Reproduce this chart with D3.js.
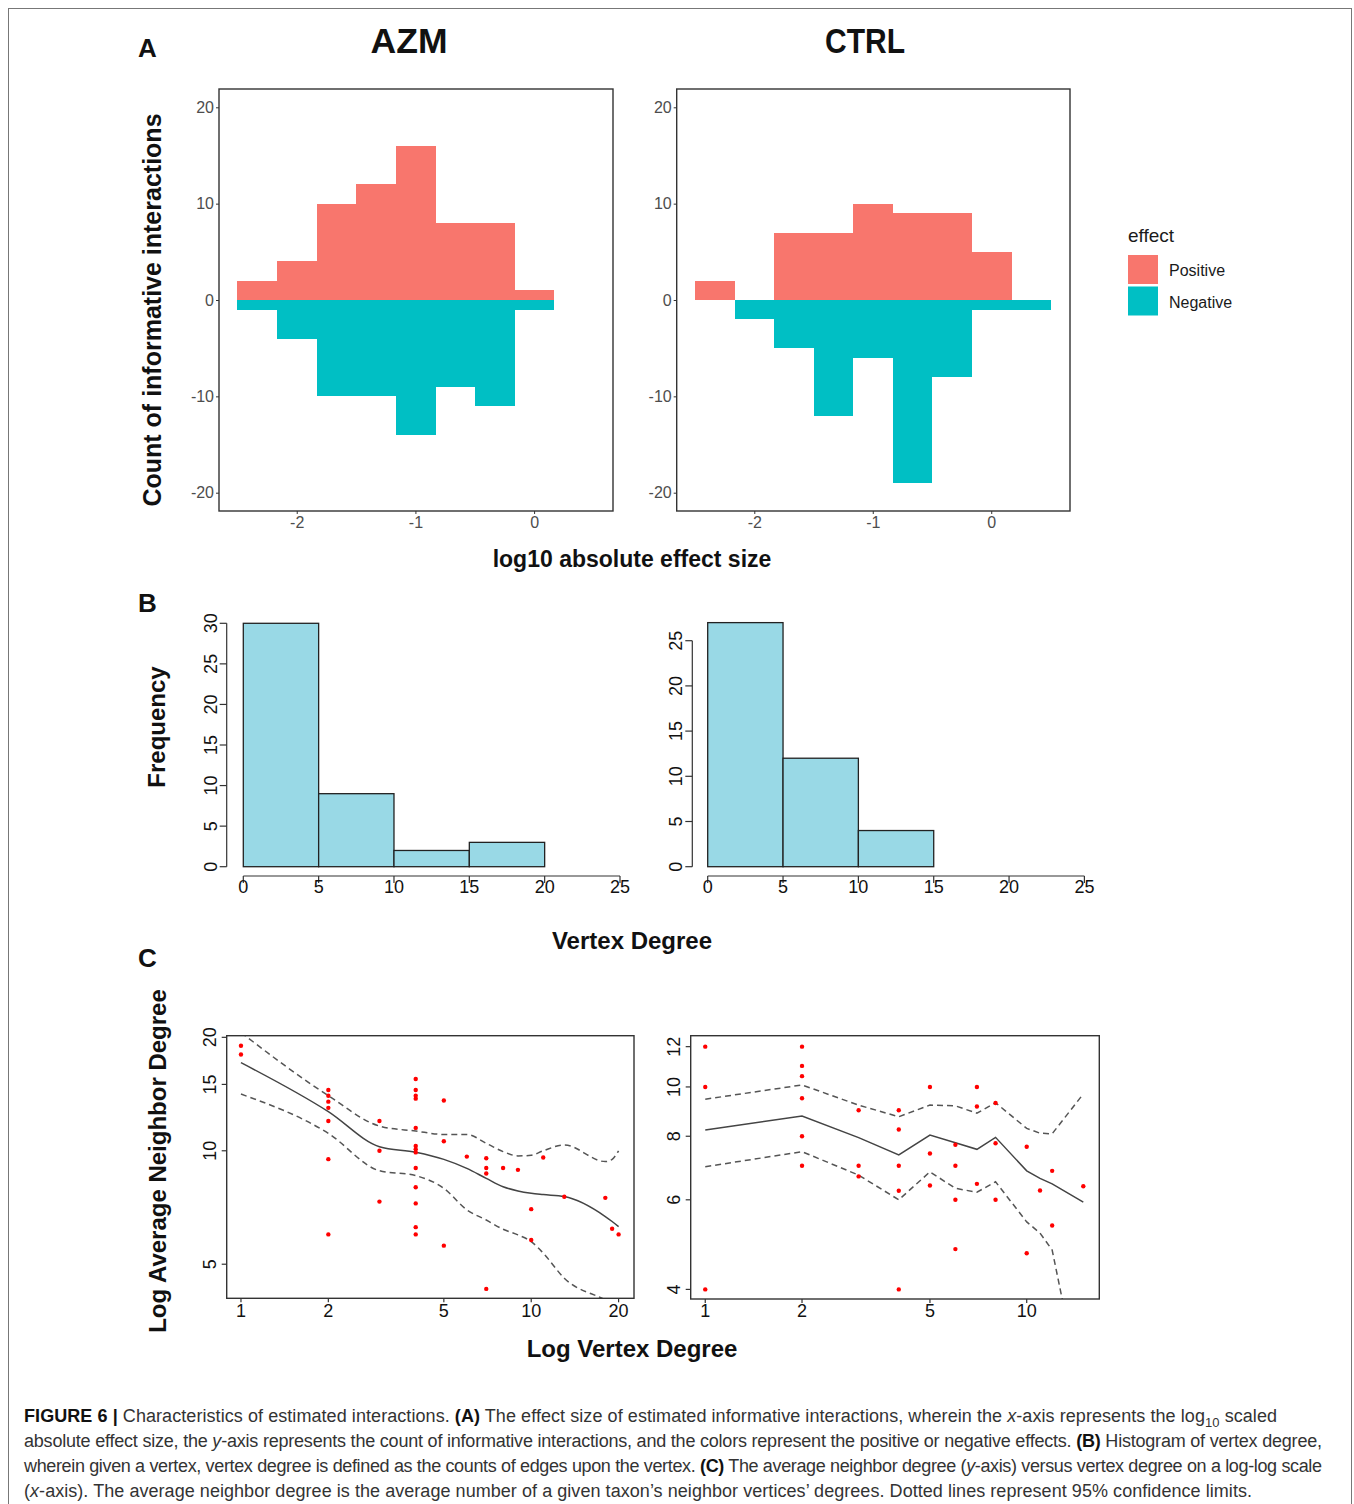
<!DOCTYPE html>
<html>
<head>
<meta charset="utf-8">
<script src="https://cdn.jsdelivr.net/npm/d3@7"></script>
<style>
  body { margin: 0; background: #fff; }
  text { font-family: "Liberation Sans", Arial, sans-serif; }
</style>
</head>
<body>
<svg id="fig" width="1354" height="1504"></svg>
<script>
'use strict';

// ---- Panel A: log10 absolute effect size histograms ----
const effectBinEdges = [-2.5, -2.167, -1.833, -1.5, -1.167, -0.833, -0.5, -0.167, 0.167, 0.5];
const azmPositive = [2, 4, 10, 12, 16, 8, 8, 1];
const azmNegative = [1, 4, 10, 10, 14, 9, 11, 1];
const ctrlPositive = [2, 0, 7, 7, 10, 9, 9, 5, 0];
const ctrlNegative = [0, 2, 5, 12, 6, 19, 8, 1, 1];
const effectYTicks = [20, 10, 0, -10, -20];
const effectXTicks = [-2, -1, 0];
const effectLevels = ['Positive', 'Negative'];

// ---- Panel B: vertex degree histograms ----
const degreeBinEdges = [0, 5, 10, 15, 20];
const azmDegreeFreq = [30, 9, 2, 3];
const ctrlDegreeFreq = [27, 12, 4];
const degreeXTicks = [0, 5, 10, 15, 20, 25];
const azmFreqTicks = [0, 5, 10, 15, 20, 25, 30];
const ctrlFreqTicks = [0, 5, 10, 15, 20, 25];

// ---- Panel C: average neighbor degree vs vertex degree ----
const azmPointDegree = [1, 1, 2, 2, 2, 2, 2, 2, 2, 3, 3, 3,
  4, 4, 4, 4, 4, 4, 4, 4, 4, 4, 4, 4, 4, 5, 5, 5, 6, 7, 7, 7, 7, 8, 9, 10, 10, 11, 13, 18, 19, 20];
const azmPointNeighbor = [19, 18, 14.5, 14, 13.5, 13, 12, 9.5, 6, 12, 10, 7.33,
  15.5, 14.5, 14, 13.75, 11.5, 10.3, 10.1, 9.9, 9, 8, 7.25, 6.27, 6, 13.6, 10.6, 5.6, 9.65, 9.55, 9, 8.7, 4.3, 9, 8.9, 7, 5.8, 9.6, 7.55, 7.5, 6.21, 6];
const azmFitDegree = [1, 2, 3, 4, 5, 6, 7, 8, 9, 10, 11, 13, 18, 19, 20];
const azmFit = [17.13, 12.7, 10.25, 9.91, 9.49, 8.98, 8.45, 8.03, 7.82, 7.71, 7.65, 7.56, 6.69, 6.49, 6.29];
const azmUpper = [20.6, 14.0, 11.63, 11.28, 11.05, 11.05, 10.47, 9.95, 9.69, 9.73, 10.0, 10.36, 9.36, 9.49, 10.0];
const azmLower = [14.14, 11.12, 8.85, 8.59, 7.95, 6.97, 6.55, 6.19, 5.98, 5.74, 5.35, 4.59, 4.02, 3.93, 3.84];

const ctrlPointDegree = [1, 1, 1, 2, 2, 2, 2, 2, 2, 3, 3, 3, 4, 4, 4, 4, 4, 5, 5, 5,
  6, 6, 6, 6, 7, 7, 7, 8, 8, 8, 10, 10, 11, 12, 12, 15];
const ctrlPointNeighbor = [12, 10, 4, 12, 11, 10.5, 9.5, 8, 7, 9, 7, 6.67, 9, 8.25, 7, 6.25, 4, 10, 7.4, 6.4,
  7.7, 7, 6, 4.8, 10, 9.15, 6.45, 9.3, 7.75, 6, 7.63, 4.71, 6.26, 6.84, 5.34, 6.38];
const ctrlFitDegree = [1, 2, 3, 4, 5, 6, 7, 8, 10, 11, 12, 15];
const ctrlFit = [8.23, 8.77, 7.95, 7.35, 8.04, 7.77, 7.54, 7.96, 6.84, 6.61, 6.45, 5.94];
const ctrlUpper = [9.46, 10.09, 9.21, 8.74, 9.21, 9.18, 8.88, 9.31, 8.29, 8.11, 8.09, 9.69];
const ctrlLower = [6.97, 7.46, 6.71, 6.0, 6.81, 6.32, 6.21, 6.51, 5.43, 5.16, 4.78, 2.4];
const azmDegreeTicks = [1, 2, 5, 10, 20];
const azmNeighborTicks = [5, 10, 15, 20];
const ctrlDegreeTicks = [1, 2, 5, 10];
const ctrlNeighborTicks = [4, 6, 8, 10, 12];

const effectColor = d3.scaleOrdinal().domain(effectLevels).range(['#F8766D', '#00BFC4']);
const svg = d3.select('#fig');

// outer figure frame
svg.append('rect')
    .attr('x', 8.5).attr('y', 8.5)
    .attr('width', 1343).attr('height', 1510)
    .attr('fill', 'none').attr('stroke', '#777').attr('stroke-width', 1);

function panelLetter(label, x, y) {
    svg.append('text').attr('x', x).attr('y', y)
        .attr('font-size', 26).attr('font-weight', 'bold').attr('fill', '#111')
        .text(label);
}

function rotatedLabel(label, x, y, size) {
    svg.append('text')
        .attr('transform', `translate(${x},${y}) rotate(-90)`)
        .attr('text-anchor', 'middle')
        .attr('font-size', size).attr('font-weight', 'bold').attr('fill', '#111')
        .text(label);
}

function centeredLabel(label, x, y, size) {
    svg.append('text').attr('x', x).attr('y', y)
        .attr('text-anchor', 'middle')
        .attr('font-size', size).attr('font-weight', 'bold').attr('fill', '#111')
        .text(label);
}

/* ggplot-style mirrored histogram of positive / negative effects */
function effectPanel(left, right, positive, negative, title, titleX, titleLen) {
    const top = 89, bottom = 511;
    const x = d3.scaleLinear().domain([-2.655, 0.665]).range([left, right]);
    const y = d3.scaleLinear().domain([-21.9, 21.9]).range([bottom, top]);
    const g = svg.append('g');

    const bins = positive.map((v, i) => ({x0: effectBinEdges[i], x1: effectBinEdges[i + 1], pos: v, neg: negative[i]}));

    g.selectAll('rect.pos').data(bins.filter(d => d.pos > 0)).join('rect')
        .attr('x', d => x(d.x0)).attr('width', d => x(d.x1) - x(d.x0) + 0.5)
        .attr('y', d => y(d.pos)).attr('height', d => y(0) - y(d.pos))
        .attr('fill', effectColor('Positive'))
        .attr('shape-rendering', 'crispEdges');
    g.selectAll('rect.neg').data(bins.filter(d => d.neg > 0)).join('rect')
        .attr('x', d => x(d.x0)).attr('width', d => x(d.x1) - x(d.x0) + 0.5)
        .attr('y', y(0)).attr('height', d => y(-d.neg) - y(0))
        .attr('fill', effectColor('Negative'))
        .attr('shape-rendering', 'crispEdges');

    g.append('rect')
        .attr('x', left).attr('y', top)
        .attr('width', right - left).attr('height', bottom - top)
        .attr('fill', 'none').attr('stroke', '#333').attr('stroke-width', 1.4);

    const yAxis = g.append('g').attr('transform', `translate(${left},0)`)
        .call(d3.axisLeft(y).tickValues(effectYTicks).tickSize(3).tickPadding(2).tickFormat(d => String(d)));
    const xAxis = g.append('g').attr('transform', `translate(0,${bottom})`)
        .call(d3.axisBottom(x).tickValues(effectXTicks).tickSize(3).tickPadding(3).tickFormat(d => String(d)));
    [yAxis, xAxis].forEach(a => {
        a.select('.domain').remove();
        a.selectAll('line').attr('stroke', '#333');
        a.selectAll('text').attr('font-size', 16).attr('fill', '#4d4d4d')
            .attr('font-family', '"Liberation Sans", Arial, sans-serif');
    });

    svg.append('text').attr('x', titleX).attr('y', 53)
        .attr('text-anchor', 'middle')
        .attr('font-size', 35).attr('font-weight', 'bold').attr('fill', '#111')
        .attr('textLength', titleLen).attr('lengthAdjust', 'spacingAndGlyphs')
        .text(title);
}

/* base-R style histogram */
function degreeHistogram(axisX, x0, yMax, yTop, freq, yTicks) {
    const base = 866.7;
    const x = d3.scaleLinear().domain([0, 25]).range([x0, x0 + 376.7]);
    const y = d3.scaleLinear().domain([0, yMax]).range([base, yTop]);
    const g = svg.append('g');

    g.selectAll('rect').data(freq).join('rect')
        .attr('x', (d, i) => x(degreeBinEdges[i]))
        .attr('width', (d, i) => x(degreeBinEdges[i + 1]) - x(degreeBinEdges[i]))
        .attr('y', d => y(d)).attr('height', d => base - y(d))
        .attr('fill', '#99D9E6').attr('stroke', '#222').attr('stroke-width', 1.3);

    // y axis
    g.append('line')
        .attr('x1', axisX).attr('x2', axisX)
        .attr('y1', y(yTicks[0])).attr('y2', y(yTicks[yTicks.length - 1]))
        .attr('stroke', '#333').attr('stroke-width', 1.2);
    yTicks.forEach(t => {
        g.append('line').attr('x1', axisX - 7).attr('x2', axisX)
            .attr('y1', y(t)).attr('y2', y(t)).attr('stroke', '#333').attr('stroke-width', 1.2);
        g.append('text')
            .attr('transform', `translate(${axisX - 10},${y(t)}) rotate(-90)`)
            .attr('text-anchor', 'middle').attr('font-size', 18).attr('fill', '#111')
            .text(t);
    });

    // x axis
    const axisY = 876;
    g.append('line')
        .attr('x1', x(degreeXTicks[0])).attr('x2', x(degreeXTicks[degreeXTicks.length - 1]))
        .attr('y1', axisY).attr('y2', axisY)
        .attr('stroke', '#333').attr('stroke-width', 1.2);
    degreeXTicks.forEach(t => {
        g.append('line').attr('x1', x(t)).attr('x2', x(t))
            .attr('y1', axisY).attr('y2', axisY + 7).attr('stroke', '#333').attr('stroke-width', 1.2);
        g.append('text').attr('x', x(t)).attr('y', 893)
            .attr('text-anchor', 'middle').attr('font-size', 18).attr('fill', '#111')
            .text(t);
    });
}

/* base-R style log-log scatter with fit and confidence limits */
function neighborPanel(box, xDomain, yDomain, px, py, fitX, fit, upper, lower, xTicks, yTicks, clipId, curve) {
    const [left, right, top, bottom] = box;
    const x = d3.scaleLog().domain(xDomain).range([left, right]);
    const y = d3.scaleLog().domain(yDomain).range([bottom, top]);
    const g = svg.append('g');

    g.append('clipPath').attr('id', clipId)
        .append('rect').attr('x', left).attr('y', top)
        .attr('width', right - left).attr('height', bottom - top);

    const plot = g.append('g').attr('clip-path', `url(#${clipId})`);
    const line = d3.line().x(d => x(d[0])).y(d => y(d[1])).curve(curve);

    plot.append('path').datum(d3.zip(fitX, fit))
        .attr('d', line).attr('fill', 'none')
        .attr('stroke', '#444').attr('stroke-width', 1.5);
    [upper, lower].forEach(band => {
        plot.append('path').datum(d3.zip(fitX, band))
            .attr('d', line).attr('fill', 'none')
            .attr('stroke', '#555').attr('stroke-width', 1.5)
            .attr('stroke-dasharray', '6,4');
    });

    plot.selectAll('circle').data(d3.zip(px, py)).join('circle')
        .attr('cx', d => x(d[0])).attr('cy', d => y(d[1]))
        .attr('r', 2.2).attr('fill', '#ff0000');

    g.append('rect')
        .attr('x', left).attr('y', top)
        .attr('width', right - left).attr('height', bottom - top)
        .attr('fill', 'none').attr('stroke', '#333').attr('stroke-width', 1.4);

    yTicks.forEach(t => {
        g.append('line').attr('x1', left - 5).attr('x2', left)
            .attr('y1', y(t)).attr('y2', y(t)).attr('stroke', '#333').attr('stroke-width', 1.2);
        g.append('text')
            .attr('transform', `translate(${left - 11},${y(t)}) rotate(-90)`)
            .attr('text-anchor', 'middle').attr('font-size', 18).attr('fill', '#111')
            .text(t);
    });
    xTicks.forEach(t => {
        g.append('line').attr('x1', x(t)).attr('x2', x(t))
            .attr('y1', bottom).attr('y2', bottom + 4).attr('stroke', '#333').attr('stroke-width', 1.2);
        g.append('text').attr('x', x(t)).attr('y', 1316.5)
            .attr('text-anchor', 'middle').attr('font-size', 18).attr('fill', '#111')
            .text(t);
    });
}

// ---- draw panel A ----
panelLetter('A', 138, 57);
effectPanel(219, 613, azmPositive, azmNegative, 'AZM', 409, 77);
effectPanel(676.7, 1070, ctrlPositive, ctrlNegative, 'CTRL', 865, 80);
rotatedLabel('Count of informative interactions', 161, 310, 25);
centeredLabel('log10 absolute effect size', 632, 567, 23);

// legend
const legend = svg.append('g').attr('transform', 'translate(1128,0)');
legend.append('text').attr('x', 0).attr('y', 242)
    .attr('font-size', 19).attr('fill', '#1a1a1a').text('effect');
effectLevels.forEach((lvl, i) => {
    legend.append('rect').attr('x', 0).attr('y', 255 + i * 31.5)
        .attr('width', 30).attr('height', 29).attr('fill', effectColor(lvl));
    legend.append('text').attr('x', 41).attr('y', 276 + i * 32)
        .attr('font-size', 16).attr('fill', '#1a1a1a').text(lvl);
});

// ---- draw panel B ----
panelLetter('B', 138, 612);
degreeHistogram(226.7, 243.3, 30, 623.3, azmDegreeFreq, azmFreqTicks);
degreeHistogram(692.3, 707.7, 25, 640.7, ctrlDegreeFreq, ctrlFreqTicks);
rotatedLabel('Frequency', 165, 727, 24);
centeredLabel('Vertex Degree', 632, 949, 24);

// ---- draw panel C ----
panelLetter('C', 138, 967);
neighborPanel([226.7, 634, 1035.7, 1298.3], [0.893, 22.6], [4.06, 20.2],
    azmPointDegree, azmPointNeighbor, azmFitDegree, azmFit, azmUpper, azmLower,
    azmDegreeTicks, azmNeighborTicks, 'clipAzm', d3.curveMonotoneX);
neighborPanel([690.7, 1099.3, 1035.7, 1299], [0.901, 16.82], [3.83, 12.61],
    ctrlPointDegree, ctrlPointNeighbor, ctrlFitDegree, ctrlFit, ctrlUpper, ctrlLower,
    ctrlDegreeTicks, ctrlNeighborTicks, 'clipCtrl', d3.curveLinear);
rotatedLabel('Log Average Neighbor Degree', 166, 1161, 24);
centeredLabel('Log Vertex Degree', 632, 1357, 24);

// ---- caption ----
const captionLines = [
    {y: 1421.5, len: 1253, parts: [
        ['FIGURE 6 | ', 'b'], ['Characteristics of estimated interactions. ', ''], ['(A)', 'b'],
        [' The effect size of estimated informative interactions, wherein the ', ''], ['x', 'i'],
        ['-axis represents the log', ''], ['10', 'sub'], [' scaled', '']]},
    {y: 1446.5, len: 1298, parts: [
        ['absolute effect size, the ', ''], ['y', 'i'],
        ['-axis represents the count of informative interactions, and the colors represent the positive or negative effects. ', ''],
        ['(B)', 'b'], [' Histogram of vertex degree,', '']]},
    {y: 1471.5, len: 1298, parts: [
        ['wherein given a vertex, vertex degree is defined as the counts of edges upon the vertex. ', ''], ['(C)', 'b'],
        [' The average neighbor degree (', ''], ['y', 'i'], ['-axis) versus vertex degree on a log-log scale', '']]},
    {y: 1496.5, len: 1228, parts: [
        ['(', ''], ['x', 'i'],
        ['-axis). The average neighbor degree is the average number of a given taxon\u2019s neighbor vertices\u2019 degrees. Dotted lines represent 95% confidence limits.', '']]}
];
captionLines.forEach(line => {
    const t = svg.append('text').attr('x', 24).attr('y', line.y)
        .attr('font-size', 18).attr('fill', '#333')
        .attr('textLength', line.len).attr('lengthAdjust', 'spacing');
    line.parts.forEach(([str, style]) => {
        const s = t.append('tspan').text(str);
        if (style === 'b') s.attr('font-weight', 'bold').attr('fill', '#111');
        if (style === 'i') s.attr('font-style', 'italic');
        if (style === 'sub') s.attr('font-size', 13).attr('dy', 5);
    });
    // restore baseline after subscript
    t.selectAll('tspan').each(function(d, i, nodes) {
        const prev = i > 0 ? nodes[i - 1] : null;
        if (prev && prev.getAttribute('dy') === '5') d3.select(this).attr('dy', -5);
    });
});
</script>
</body>
</html>
